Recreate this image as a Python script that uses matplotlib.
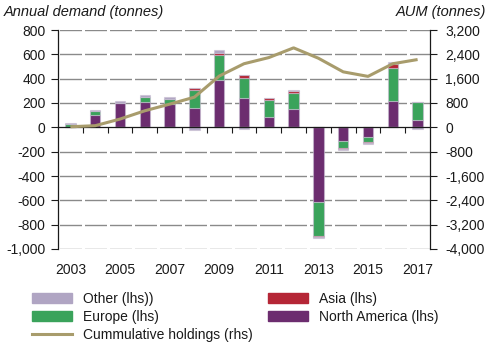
import numpy as np
import matplotlib
matplotlib.use("Agg")
import matplotlib.pyplot as plt
from matplotlib.ticker import FuncFormatter, FixedLocator
from matplotlib.patches import Patch
from matplotlib.lines import Line2D

plt.rcParams['font.family'] = ['Liberation Sans', 'DejaVu Sans']

years = list(range(2003, 2018))
north_america = [3, 98, 198, 212, 188, 160, 387, 240, 88, 152, -612, -110, -81, 219, 61]
europe = [22, 33, 5, 41, 48, 149, 208, 163, 133, 133, -280, -57, -38, 269, 144]
asia = [0, 0, 0, 0, 0, 13, 13, 24, 16, 11, -8, -8, -8, 32, 0]
other = [8, 10, 12, 14, 17, -18, 24, -15, 5, 11, -13, -11, -11, 16, -13]
cumulative = [20, 54, 272, 544, 762, 992, 1685, 2091, 2293, 2613, 2272, 1824, 1675, 2091, 2229]

left_ticks = [800, 600, 400, 200, 0, -200, -400, -600, -800, -1000]
right_ticks = [3200, 2400, 1600, 800, 0, -800, -1600, -2400, -3200, -4000]
year_labels = [str(y) for y in years[::2]]

c_na = '#6c2d6f'
c_eu = '#3aa35b'
c_as = '#b52636'
c_ot = '#b0a5c3'
c_line = '#a89c6c'
txt = '#1a1a1a'

fig = plt.figure(figsize=(4.94, 3.47), dpi=100)
ax = fig.add_axes([58/494, 1 - 249/347, (430 - 58)/494, (249 - 30)/347])

x = np.arange(len(years))
series = [(north_america, c_na), (europe, c_eu), (asia, c_as), (other, c_ot)]
pos_base = np.zeros(len(years))
neg_base = np.zeros(len(years))
w = 0.42
for vals, col in series:
    v = np.array(vals, dtype=float)
    pv = np.where(v > 0, v, 0)
    nv = np.where(v < 0, v, 0)
    ax.bar(x, pv, w, bottom=pos_base, color=col, edgecolor=(0.78, 0.74, 0.82, 0.6),
           linewidth=0.8, zorder=3)
    ax.bar(x, nv, w, bottom=neg_base, color=col, edgecolor=(0.78, 0.74, 0.82, 0.6),
           linewidth=0.8, zorder=3)
    pos_base += pv
    neg_base += nv

ax.set_xlim(-0.5, len(years) - 0.5)
ax.set_ylim(-1000, 800)
ax.yaxis.set_major_locator(FixedLocator(left_ticks))
ax.yaxis.set_major_formatter(FuncFormatter(lambda v, p: f"{int(v):,}"))
ax.tick_params(axis='y', direction='out', length=5, width=0.8, colors=txt,
               labelsize=10, pad=4)

# grid lines (dashed with gaps at category boundaries)
px = 72 / 100.0
on, off = 22 * px, 3 * px
for t in left_ticks:
    if t == 0:
        continue
    ax.axhline(t, color='#8a8a8a', lw=1.0, zorder=1,
               linestyle=(on + off / 2, (on, off)))

for s in ['top', 'right']:
    ax.spines[s].set_visible(False)
ax.spines['left'].set_color(txt)
ax.spines['left'].set_linewidth(0.9)
ax.spines['bottom'].set_position(('data', 0))
ax.spines['bottom'].set_color(txt)
ax.spines['bottom'].set_linewidth(0.9)
ax.spines['bottom'].set_zorder(4)
ax.set_xticks(np.arange(0.5, len(years) - 1, 1))
ax.set_xticklabels([])
ax.tick_params(axis='x', direction='out', length=4, width=0.8, colors=txt)

sec = ax.secondary_xaxis('bottom')
sec.set_xticks(x[::2])
sec.set_xticklabels(year_labels)
sec.tick_params(length=0, labelsize=10, pad=10, colors=txt)
sec.spines['bottom'].set_visible(False)

ax2 = ax.twinx()
ax2.plot(x, cumulative, color=c_line, lw=2.2, solid_capstyle='butt', zorder=5)
ax2.set_ylim(-4000, 3200)
ax2.yaxis.set_major_locator(FixedLocator(right_ticks))
ax2.yaxis.set_major_formatter(FuncFormatter(lambda v, p: f"{int(v):,}"))
ax2.tick_params(axis='y', direction='out', length=5, width=0.8, colors=txt,
                labelsize=10, pad=6)
for s in ['top', 'left', 'bottom']:
    ax2.spines[s].set_visible(False)
ax2.spines['right'].set_color(txt)
ax2.spines['right'].set_linewidth(0.9)

fig.text(4/494, 1 - 12/347, 'Annual demand (tonnes)', style='italic', fontsize=10.5,
         color=txt, ha='left', va='center')
fig.text(486/494, 1 - 12/347, 'AUM (tonnes)', style='italic', fontsize=10.5,
         color=txt, ha='right', va='center')

handles = [Patch(color=c_ot), Patch(color=c_eu),
           Line2D([0], [0], color=c_line, lw=2.2),
           Patch(color=c_as), Patch(color=c_na)]
labels = ['Other (lhs))', 'Europe (lhs)', 'Cummulative holdings (rhs)',
          'Asia (lhs)', 'North America (lhs)']
fig.legend(handles, labels, ncol=2, loc='upper left',
           bbox_to_anchor=(19/494, 1 - 279/347), frameon=False, fontsize=10,
           handlelength=2.9, handleheight=0.7, handletextpad=0.8,
           columnspacing=1.1, labelspacing=0.3, labelcolor=txt)

fig.savefig('out.png', dpi=100)
